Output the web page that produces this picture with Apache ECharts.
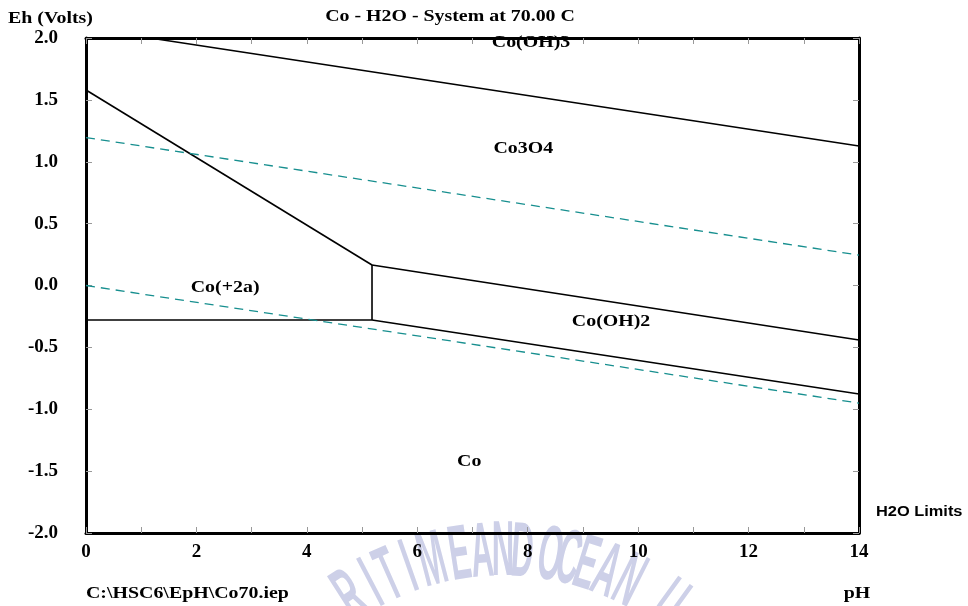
<!DOCTYPE html>
<html>
<head>
<meta charset="utf-8">
<script src="https://cdn.jsdelivr.net/npm/echarts@6/dist/echarts.min.js"></script>
<style>
html,body{margin:0;padding:0;background:#fff;}
#chart{width:968px;height:606px;}
</style>
</head>
<body>
<div id="chart"></div>
<script>
// ---- data ----
const titleText = 'Co - H2O - System at 70.00 C';
const yName = 'Eh (Volts)';
const xName = 'pH';
const fileName = 'C:\\HSC6\\EpH\\Co70.iep';
const limitsName = 'H2O Limits';
const xRange = [0, 14];
const yRange = [-2, 2];

// stability boundaries [pH, Eh]
const bOH3_Co3O4 = [[1.16, 2.0], [14, 1.127]];
const bCo2_Co3O4 = [[0, 1.58], [5.18, 0.166]];
const bCo3O4_OH2 = [[5.18, 0.166], [14, -0.44]];
const bCo2_OH2 = [[5.18, 0.166], [5.18, -0.279]];
const bCo2_Co = [[0, -0.279], [5.18, -0.279]];
const bOH2_Co = [[5.18, -0.279], [14, -0.877]];
// water stability limits
const waterUpper = [[0, 1.195], [14, 0.246]];
const waterLower = [[0, 0.0], [14, -0.95]];

// region labels
const regionNames = ['Co(OH)3', 'Co3O4', 'Co(+2a)', 'Co(OH)2', 'Co'];
const regionPH = [8.06, 7.92, 2.52, 9.51, 6.94];
const regionEh = [1.96, 1.11, -0.02, -0.29, -1.42];

// watermark
const wmLetters = ['R','I','T','I','M','E','A','N','D','O','C','E','A','N','U'];
const wmX = [352, 373, 390, 410, 433, 460, 482, 503, 522, 550, 568, 586, 606, 628, 667];

// ---- chart ----
const serif = '"Liberation Serif", "Times New Roman", serif';
const sans = '"Liberation Sans", Arial, sans-serif';
const chart = echarts.init(document.getElementById('chart'), null, {renderer: 'canvas'});

const solid = {color: '#000', width: 1.6, type: 'solid'};
const dashed = {color: '#178f8f', width: 1.3, type: [9, 6]};
function lineSeries(data, style) {
  return {type: 'line', data: data, symbol: 'none', lineStyle: style, silent: true, animation: false, z: 3};
}

const wmR = 280, wmCx = 503, wmCy = 834;
const wmElements = wmLetters.map((ch, i) => {
  const a = Math.asin((wmX[i] - wmCx) / wmR);
  return {
    type: 'text', z: -100, silent: true,
    x: wmX[i], y: wmCy - wmR * Math.cos(a),
    rotation: -a, scaleX: 0.5, scaleY: 1.25,
    style: {text: ch, font: 'bold 62px ' + sans, fill: '#cdd0e8', textAlign: 'center', textVerticalAlign: 'middle'}
  };
});

const SX = 1.17;
function txt(text, x, y, align, font) {
  return {type: 'text', x: x, y: y, scaleX: SX, style: {text: text, font: font || ('bold 17px ' + serif), fill: '#000', textAlign: align, textVerticalAlign: 'middle'}};
}

function tick() { return {show: true, inside: true, length: 6, lineStyle: {color: '#999', width: 1}}; }
function axLine() { return {show: true, onZero: false, lineStyle: {color: '#000', width: 3}}; }

chart.setOption({
  animation: false,
  grid: {left: 86, right: 109, top: 38, bottom: 73, containLabel: false},
  xAxis: [{
    type: 'value', min: xRange[0], max: xRange[1], interval: 1, position: 'bottom',
    axisLine: axLine(), axisTick: tick(), splitLine: {show: false},
    axisLabel: {formatter: v => (v % 2 === 0 ? String(v) : ''), margin: 10, color: '#000', fontFamily: serif, fontWeight: 'bold', fontSize: 19}
  }, {
    type: 'value', min: xRange[0], max: xRange[1], interval: 1, position: 'top',
    axisLine: axLine(), axisTick: tick(), splitLine: {show: false}, axisLabel: {show: false}
  }],
  yAxis: [{
    type: 'value', min: yRange[0], max: yRange[1], interval: 0.5, position: 'left',
    axisLine: axLine(), axisTick: tick(), splitLine: {show: false},
    axisLabel: {formatter: v => v.toFixed(1), margin: 28, color: '#000', fontFamily: serif, fontWeight: 'bold', fontSize: 19}
  }, {
    type: 'value', min: yRange[0], max: yRange[1], interval: 0.5, position: 'right',
    axisLine: axLine(), axisTick: tick(), splitLine: {show: false}, axisLabel: {show: false}
  }],
  series: [
    lineSeries(bOH3_Co3O4, solid),
    lineSeries(bCo2_Co3O4, solid),
    lineSeries(bCo3O4_OH2, solid),
    lineSeries(bCo2_OH2, solid),
    lineSeries(bCo2_Co, solid),
    lineSeries(bOH2_Co, solid),
    lineSeries(waterUpper, dashed),
    lineSeries(waterLower, dashed),
    {
      type: 'custom', silent: true, z: 10, clip: false,
      data: regionNames.map((n, i) => [regionPH[i], regionEh[i], i]),
      renderItem: function (params, api) {
        const p = api.coord([api.value(0), api.value(1)]);
        return {
          type: 'text', x: p[0], y: p[1], scaleX: SX,
          style: {text: regionNames[api.value(2)], font: 'bold 17px ' + serif, fill: '#000', textAlign: 'center', textVerticalAlign: 'middle'}
        };
      }
    }
  ],
  graphic: {elements: [
    ...wmElements,
    txt(titleText, 450, 17, 'center'),
    txt(yName, 8, 19, 'left'),
    txt(limitsName, 876, 512, 'left', 'bold 14px ' + sans),
    txt(fileName, 86, 594, 'left'),
    txt(xName, 857, 594, 'center')
  ]}
});
</script>
</body>
</html>
